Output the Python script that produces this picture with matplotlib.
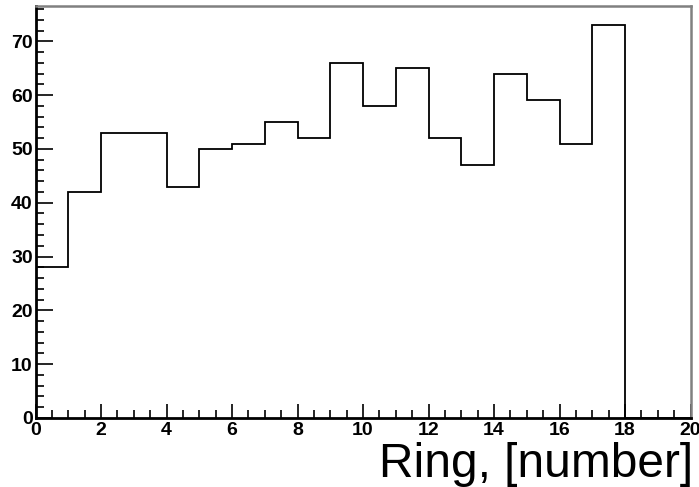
import numpy as np
import matplotlib
matplotlib.use("Agg")
import matplotlib.pyplot as plt
from matplotlib.ticker import MultipleLocator

# Histogramm-Daten (Ring 0..20, 20 Bins)
bin_edges = list(range(0, 21))
counts = [28, 42, 53, 53, 43, 50, 51, 55, 52, 66,
          58, 65, 52, 47, 64, 59, 51, 73, 0, 0]
x_label = "Ring, [number]"

plt.rcParams['font.family'] = ['Liberation Sans', 'DejaVu Sans']

fig = plt.figure(figsize=(6.99, 4.87), dpi=100)
ax = fig.add_axes([35.5 / 699, 69 / 487, 655 / 699, 412.5 / 487])

ax.stairs(counts, bin_edges, color="black", linewidth=1.3)

ax.set_xlim(0, 20)
ax.set_ylim(0, max(counts) * 1.05)

ax.xaxis.set_major_locator(MultipleLocator(2))
ax.xaxis.set_minor_locator(MultipleLocator(0.5))
ax.yaxis.set_major_locator(MultipleLocator(10))
ax.yaxis.set_minor_locator(MultipleLocator(2))

ax.tick_params(which="both", direction="in", top=False, right=False,
               labelsize=14, width=1.2)
ax.tick_params(which="major", axis="x", length=10, pad=3)
ax.tick_params(which="major", axis="y", length=12, pad=2)
ax.tick_params(which="minor", length=5.5)
for lbl in ax.get_xticklabels() + ax.get_yticklabels():
    lbl.set_fontweight("bold")

# Rahmen: links/unten schwarz, oben/rechts grau
ax.spines["left"].set_linewidth(2)
ax.spines["bottom"].set_linewidth(2)
ax.spines["top"].set_color("#808080")
ax.spines["right"].set_color("#808080")
ax.spines["top"].set_linewidth(1.8)
ax.spines["right"].set_linewidth(1.8)

fig.text(693 / 699, 1 - 477 / 487, x_label, ha="right", va="baseline",
         fontsize=34.5)

plt.savefig("out.png", dpi=100)
